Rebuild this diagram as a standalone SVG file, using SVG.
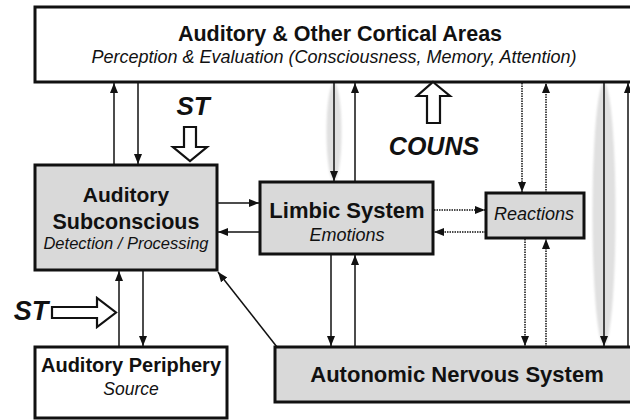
<svg xmlns="http://www.w3.org/2000/svg" width="630" height="420" viewBox="0 0 630 420">
  <defs>
    <marker id="ah" markerUnits="userSpaceOnUse" markerWidth="10" markerHeight="10" viewBox="0 0 10 10" refX="10" refY="5" orient="auto">
      <path d="M0,1 L10,5 L0,9 Z" fill="#111"/>
    </marker>
    <filter id="soft" x="-50%" y="-10%" width="200%" height="120%">
      <feGaussianBlur stdDeviation="0.8"/>
    </filter>
    <style>
      .box { stroke: #111; stroke-width: 3; }
      .white { fill: #fff; }
      .grey { fill: #d9d9d9; }
      .ln { stroke: #111; stroke-width: 1.5; fill: none; marker-end: url(#ah); }
      .dot { stroke: #111; stroke-width: 1.5; fill: none; stroke-dasharray: 1.5 1; marker-end: url(#ah); }
      .hollow { fill: #fff; stroke: #111; stroke-width: 2.2; stroke-linejoin: miter; }
      .halo { fill: #e0e0e0; filter: url(#soft); }
      text { font-family: "Liberation Sans", Arial, sans-serif; fill: #111; text-anchor: middle; }
      .b { font-weight: bold; }
      .i { font-style: italic; }
      .bi { font-weight: bold; font-style: italic; }
    </style>
  </defs>

  <!-- light grey lens shapes behind the long vertical links -->
  <ellipse class="halo" cx="334" cy="132" rx="7.5" ry="49"/>
  <ellipse class="halo" cx="604" cy="214" rx="11.5" ry="131"/>

  <g id="cortex">
    <rect class="box white" x="35" y="7" width="610" height="75"/>
    <text class="b" x="340" y="41" font-size="21.5">Auditory &amp; Other Cortical Areas</text>
    <text class="i" x="334" y="63" font-size="18">Perception &amp; Evaluation (Consciousness, Memory, Attention)</text>
  </g>

  <g id="subconscious">
    <rect class="box grey" x="35" y="165" width="182" height="105"/>
    <text class="b" x="126" y="202" font-size="21">Auditory</text>
    <text class="b" x="126" y="229" font-size="21.5">Subconscious</text>
    <text class="i" x="126" y="249" font-size="16.5">Detection / Processing</text>
  </g>

  <g id="limbic">
    <rect class="box grey" x="260" y="182" width="173" height="72"/>
    <text class="b" x="347" y="218" font-size="22">Limbic System</text>
    <text class="i" x="347" y="241" font-size="18">Emotions</text>
  </g>

  <g id="reactions">
    <rect class="box grey" x="486" y="193" width="98" height="45"/>
    <text class="i" x="534" y="220" font-size="18">Reactions</text>
  </g>

  <g id="periphery">
    <rect class="box white" x="35" y="347" width="192" height="71"/>
    <text class="b" x="131" y="372" font-size="20">Auditory Periphery</text>
    <text class="i" x="131" y="395" font-size="17.5">Source</text>
  </g>

  <g id="ans">
    <rect class="box grey" x="275" y="347" width="370" height="55"/>
    <text class="b" x="457" y="382" font-size="22">Autonomic Nervous System</text>
  </g>

  <g id="connectors">
    <!-- cortex <-> subconscious -->
    <line class="ln" x1="114" y1="165" x2="114" y2="83"/>
    <line class="ln" x1="138" y1="83" x2="138" y2="164"/>
    <!-- cortex <-> limbic -->
    <line class="ln" x1="334" y1="83" x2="334" y2="181"/>
    <line class="ln" x1="355" y1="182" x2="355" y2="83"/>
    <!-- subconscious <-> limbic -->
    <line class="ln" x1="218" y1="203" x2="259" y2="203"/>
    <line class="ln" x1="260" y1="232" x2="218" y2="232"/>
    <!-- limbic <-> reactions -->
    <line class="dot" x1="434" y1="210" x2="485" y2="210"/>
    <line class="dot" x1="486" y1="232" x2="434" y2="232"/>
    <!-- cortex <-> reactions -->
    <line class="dot" x1="522" y1="83" x2="522" y2="192"/>
    <line class="dot" x1="546" y1="193" x2="546" y2="83"/>
    <!-- reactions <-> ANS -->
    <line class="dot" x1="525" y1="239" x2="525" y2="346"/>
    <line class="dot" x1="546" y1="347" x2="546" y2="239"/>
    <!-- limbic <-> ANS -->
    <line class="ln" x1="331" y1="255" x2="331" y2="346"/>
    <line class="ln" x1="355" y1="347" x2="355" y2="255"/>
    <!-- cortex <-> ANS -->
    <line class="ln" x1="604" y1="83" x2="604" y2="346"/>
    <line class="ln" x1="628" y1="347" x2="628" y2="83"/>
    <!-- subconscious <-> periphery -->
    <line class="ln" x1="119" y1="347" x2="119" y2="271"/>
    <line class="ln" x1="143" y1="271" x2="143" y2="346"/>
    <!-- ANS -> subconscious -->
    <line class="ln" x1="277" y1="347" x2="218" y2="272"/>
  </g>

  <g id="sound-therapy-top">
    <text class="bi" x="193" y="115" font-size="26">ST</text>
    <path class="hollow" d="M184,127 H196 V147 H207 L190,161 L173,147 H184 Z"/>
  </g>

  <g id="counselling">
    <path class="hollow" d="M433,82 L450,96 H440 V123 H427 V96 H417 Z"/>
    <text class="bi" x="434" y="155" font-size="25">COUNS</text>
  </g>

  <g id="sound-therapy-left">
    <text class="bi" x="31" y="320" font-size="27">ST</text>
    <path class="hollow" d="M52,307 H97 V298 L116,312.5 L97,327 V318 H52 Z"/>
  </g>
</svg>
